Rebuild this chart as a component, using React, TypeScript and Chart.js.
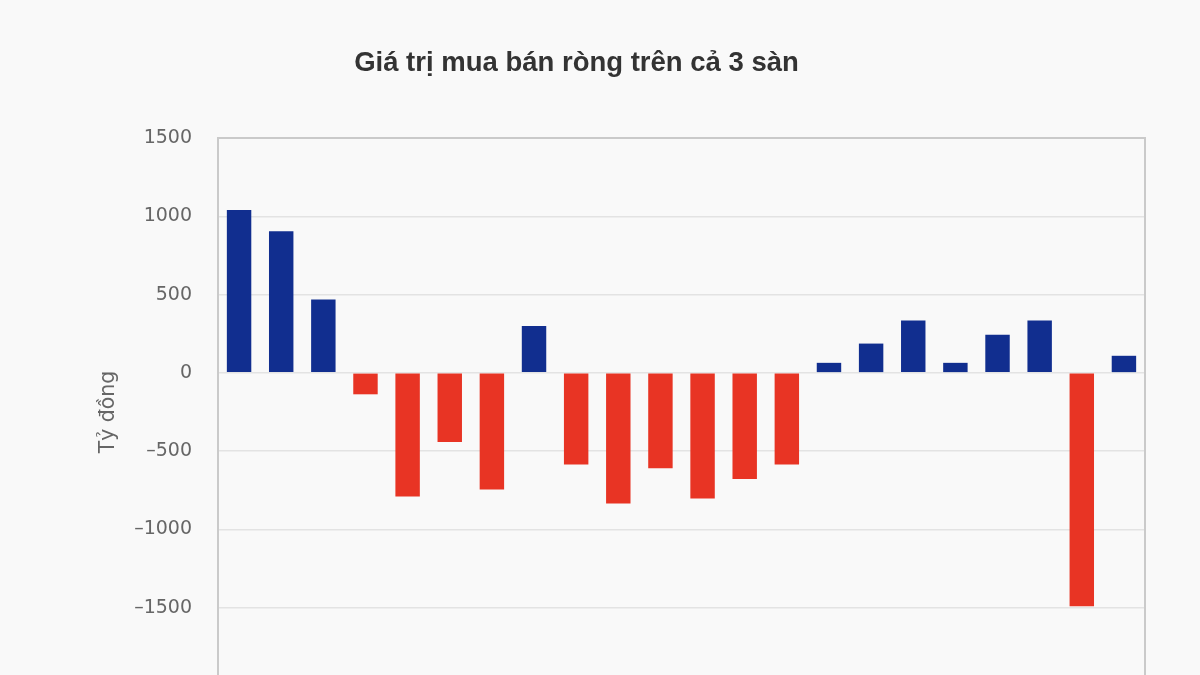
import React, { useEffect, useRef } from "react";
import { Chart, registerables } from "chart.js";

Chart.register(...registerables);

const chartTitle = "Giá trị mua bán ròng trên cả 3 sàn";
const axisTitle = "Tỷ đồng";
const categories = [
  "1", "2", "3", "4", "5", "6", "7", "8", "9", "10", "11",
  "12", "13", "14", "15", "16", "17", "18", "19", "20", "21", "22",
];
const netValues = [
  1040, 905, 468, -137, -790, -441, -745, 300, -586, -835, -610,
  -803, -678, -586, 64, 187, 334, 64, 243, 334, -1490, 109,
];
const yMin = -2000;
const yMax = 1500;
const yStep = 500;

const BLUE = "#112e8f";
const RED = "#e83424";

const framePlugin = {
  id: "frame",
  beforeDatasetsDraw(chart: any) {
    const { ctx, chartArea: a } = chart;
    ctx.save();
    ctx.strokeStyle = "#cacaca";
    ctx.lineWidth = 2;
    ctx.strokeRect(a.left, a.top, a.right - a.left, a.bottom - a.top);
    ctx.restore();
  },
};

export default function App() {
  const ref = useRef<HTMLCanvasElement>(null);

  useEffect(() => {
    if (!ref.current) return;
    const chart = new Chart(ref.current, {
      type: "bar",
      data: {
        labels: categories,
        datasets: [
          {
            data: netValues,
            backgroundColor: netValues.map((v) => (v >= 0 ? BLUE : RED)),
            borderWidth: 0,
            categoryPercentage: 1,
            barPercentage: 0.58,
          },
        ],
      },
      options: {
        responsive: false,
        animation: false,
        layout: { padding: { left: 8, right: 55, top: 0, bottom: 74 } },
        plugins: {
          legend: { display: false },
          tooltip: { enabled: false },
          title: {
            display: true,
            text: chartTitle,
            color: "#333333",
            font: {
              family: "'Liberation Sans', Arial, sans-serif",
              size: 27.5,
              weight: "bold",
            },
            padding: { top: 46.5, bottom: 58.5 },
          },
        },
        scales: {
          x: {
            display: false,
          },
          y: {
            min: yMin,
            max: yMax,
            ticks: {
              stepSize: yStep,
              padding: 26,
              color: "#666666",
              font: { family: "'DejaVu Sans', sans-serif", size: 19 },
              callback: (v: any) =>
                Number(v) < 0 ? "\u2013" + Math.abs(Number(v)) : String(v),
            },
            grid: { color: "#e3e3e3", lineWidth: 1.5, drawTicks: false },
            border: { color: "#c8c8c8", width: 2 },
            title: {
              display: true,
              text: axisTitle,
              color: "#666666",
              font: { family: "'DejaVu Sans', sans-serif", size: 20.5 },
              padding: { top: 88, bottom: 0 },
            },
            afterFit: (s: any) => {
              s.width = 210;
            },
          },
        },
      },
      plugins: [framePlugin],
    });
    return () => chart.destroy();
  }, []);

  return (
    <div
      style={{
        position: "fixed",
        top: 0,
        left: 0,
        width: 1200,
        height: 675,
        overflow: "hidden",
        background: "#f9f9f9",
      }}
    >
      <canvas
        ref={ref}
        width={1200}
        height={760}
        style={{ display: "block", width: 1200, height: 760 }}
      />
    </div>
  );
}
